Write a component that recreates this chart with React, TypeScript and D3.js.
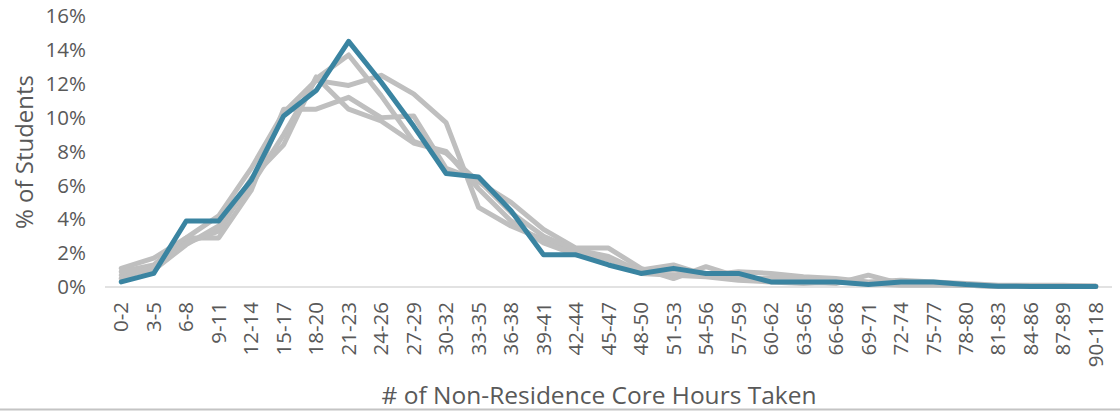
import React from "react";
import * as d3 from "d3";

const categories = ["0-2","3-5","6-8","9-11","12-14","15-17","18-20","21-23","24-26","27-29","30-32","33-35","36-38","39-41","42-44","45-47","48-50","51-53","54-56","57-59","60-62","63-65","66-68","69-71","72-74","75-77","78-80","81-83","84-86","87-89","90-118"];

const grayA = [0.7, 1.0, 2.5, 3.6, 6.0, 9.0, 12.3, 13.7, 11.3, 8.6, 7.9, 6.2, 5.0, 3.4, 2.3, 2.3, 1.1, 0.5, 1.2, 0.6, 0.4, 0.3, 0.2, 0.7, 0.2, 0.2, 0.1, 0.05, 0.05, 0.05, 0.05];
const grayB = [1.1, 1.7, 2.9, 4.2, 7.0, 10.3, 12.2, 11.9, 12.5, 11.4, 9.7, 4.7, 3.6, 2.8, 2.1, 1.6, 1.0, 1.3, 0.7, 0.9, 0.8, 0.6, 0.5, 0.3, 0.4, 0.3, 0.2, 0.1, 0.1, 0.1, 0.05];
const grayC = [0.9, 1.3, 2.9, 2.9, 5.7, 10.5, 10.5, 11.2, 10.0, 10.1, 7.0, 6.3, 4.4, 3.0, 2.2, 1.8, 0.9, 1.0, 0.8, 0.5, 0.5, 0.5, 0.3, 0.2, 0.2, 0.2, 0.1, 0.05, 0.05, 0.05, 0.05];
const grayD = [0.5, 1.2, 2.6, 3.3, 6.4, 8.4, 12.4, 10.5, 9.8, 8.5, 8.0, 5.8, 3.9, 2.6, 1.9, 1.7, 0.8, 0.7, 0.6, 0.4, 0.3, 0.2, 0.3, 0.2, 0.1, 0.1, 0.1, 0.05, 0.05, 0.05, 0.05];
const blue = [0.3, 0.8, 3.9, 3.9, 6.3, 10.1, 11.6, 14.5, 12.1, 9.5, 6.7, 6.5, 4.5, 1.9, 1.9, 1.3, 0.8, 1.1, 0.8, 0.8, 0.3, 0.3, 0.3, 0.15, 0.3, 0.3, 0.15, 0.05, 0.03, 0.03, 0.03];

const grayLines = [grayA, grayB, grayC, grayD];
const yTicks = [0, 2, 4, 6, 8, 10, 12, 14, 16];

const W = 1120;
const H = 411;
const left = 105;
const right = 1112;
const top = 16;
const bottom = 287;
const FONT = "'Open Sans', 'Liberation Sans', sans-serif";
const TEXT = "#595959";

export default function App() {
  const x = d3.scaleBand<string>().domain(categories).range([left, right]).padding(0);
  const y = d3.scaleLinear().domain([0, 16]).range([bottom, top]);
  const cx = (c: string) => (x(c) as number) + x.bandwidth() / 2;
  const line = d3
    .line<number>()
    .x((_, i) => cx(categories[i]))
    .y((d) => y(d));

  return (
    <svg width={W} height={H} style={{ position: "absolute", left: 0, top: 0, background: "#fff" }}>
      <rect x={0} y={0} width={W} height={H} fill="#fff" />
      <line x1={left} x2={right} y1={y(0)} y2={y(0)} stroke="#d9d9d9" strokeWidth={1.5} />
      {yTicks.map((t) => (
        <text key={t} x={86} y={y(t)} dy="0.35em" textAnchor="end" fontFamily={FONT} fontSize={20.5} fill={TEXT}>
          {t}%
        </text>
      ))}
      {categories.map((c) => (
        <text
          key={c}
          transform={`translate(${cx(c)},${302}) rotate(-90)`}
          textAnchor="end"
          dy="0.35em"
          fontFamily={FONT}
          fontSize={20.5}
          fill={TEXT}
        >
          {c}
        </text>
      ))}
      {grayLines.map((g, i) => (
        <path key={i} d={line(g) || ""} fill="none" stroke="#bfbfbf" strokeWidth={5} strokeLinejoin="round" strokeLinecap="round" />
      ))}
      <path d={line(blue) || ""} fill="none" stroke="#3a84a1" strokeWidth={5} strokeLinejoin="round" strokeLinecap="round" />
      <text
        transform={`translate(${25},${152}) rotate(-90)`}
        textAnchor="middle"
        dy="0.35em"
        fontFamily={FONT}
        fontSize={24}
        fill={TEXT}
      >
        % of Students
      </text>
      <text x={599} y={404} textAnchor="middle" fontFamily={FONT} fontSize={24.5} fill={TEXT}>
        # of Non-Residence Core Hours Taken
      </text>
      <line x1={0} x2={W} y1={409.5} y2={409.5} stroke="#c4c4c4" strokeWidth={2} />
    </svg>
  );
}
